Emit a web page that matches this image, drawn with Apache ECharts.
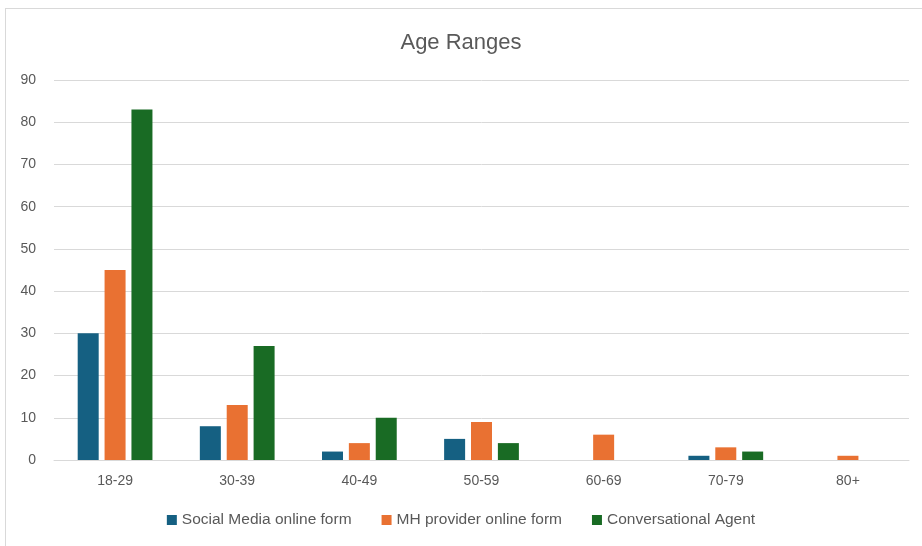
<!DOCTYPE html>
<html>
<head>
<meta charset="utf-8">
<script src="https://cdn.jsdelivr.net/npm/echarts@6/dist/echarts.min.js"></script>
<style>
  html, body { margin: 0; padding: 0; background: #fff; }
  #frame { position: absolute; left: 5px; top: 8px; width: 930px; height: 560px; border: 1px solid #d9d9d9; box-sizing: border-box; }
  #chart { position: absolute; left: 0; top: 0; width: 922px; height: 546px; }
</style>
</head>
<body>
<div id="frame"></div>
<div id="chart"></div>
<script>
const categories = ['18-29', '30-39', '40-49', '50-59', '60-69', '70-79', '80+'];
const socialMedia = [30, 8, 2, 5, 0, 1, 0];
const mhProvider = [45, 13, 4, 9, 6, 3, 1];
const convAgent = [83, 27, 10, 4, 0, 2, 0];
const seriesNames = ['Social Media online form', 'MH provider online form', 'Conversational Agent'];
const colors = ['#156082', '#E97132', '#196B24'];

const font = '"Liberation Sans Narrow", "Liberation Sans", sans-serif';
const chart = echarts.init(document.getElementById('chart'));

const mkSeries = (name, data, color) => ({
  name, type: 'bar', data, barWidth: 21, barGap: '28%',
  itemStyle: { color }
});

chart.setOption({
  animation: false,
  title: {
    text: 'Age Ranges', left: 'center', top: 27,
    textStyle: { fontFamily: font, fontSize: 22, fontWeight: 'normal', color: '#595959' }
  },
  legend: {
    bottom: 13, left: 'center', itemWidth: 10, itemHeight: 10, itemGap: 30,
    icon: 'rect',
    textStyle: { fontFamily: font, fontSize: 15.5, color: '#595959' },
    data: seriesNames
  },
  grid: { left: 54, right: 13, top: 80, bottom: 86 },
  xAxis: {
    type: 'category', data: categories,
    axisLine: { lineStyle: { color: '#d9d9d9', width: 1 } },
    axisTick: { show: false },
    axisLabel: { fontFamily: font, fontSize: 14, color: '#595959', margin: 14 }
  },
  yAxis: {
    type: 'value', min: 0, max: 90, interval: 10,
    axisLine: { show: false }, axisTick: { show: false },
    splitLine: { lineStyle: { color: '#d9d9d9', width: 1 } },
    axisLabel: { fontFamily: font, fontSize: 14, color: '#595959', margin: 18 }
  },
  series: [
    mkSeries(seriesNames[0], socialMedia, colors[0]),
    mkSeries(seriesNames[1], mhProvider, colors[1]),
    mkSeries(seriesNames[2], convAgent, colors[2])
  ]
});
</script>
</body>
</html>
